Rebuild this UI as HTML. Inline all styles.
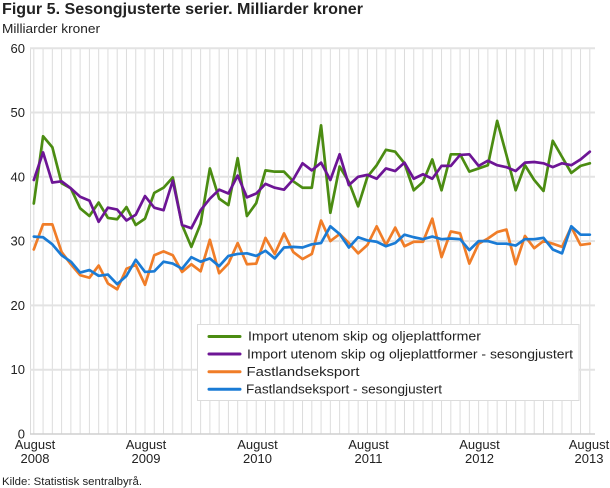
<!DOCTYPE html>
<html><head><meta charset="utf-8"><style>
html,body{margin:0;padding:0;background:#fff;}
svg{display:block;font-family:"Liberation Sans",Arial,sans-serif;}
</style></head><body>
<svg width="610" height="488" viewBox="0 0 610 488" xmlns="http://www.w3.org/2000/svg">
<rect width="610" height="488" fill="#fff"/>
<text x="2" y="14" font-size="15.5" font-weight="bold" fill="#222" textLength="361" lengthAdjust="spacingAndGlyphs">Figur 5. Sesongjusterte serier. Milliarder kroner</text>
<text x="2" y="33" font-size="12.5" fill="#222" textLength="98" lengthAdjust="spacingAndGlyphs">Milliarder kroner</text>
<!-- vertical gridlines -->
<g stroke="#dcdcdc" stroke-width="1">
<line x1="30.5" y1="48" x2="30.5" y2="434"/>
<line x1="33.8" y1="48" x2="33.8" y2="434"/><line x1="43.07" y1="48" x2="43.07" y2="434"/><line x1="52.33" y1="48" x2="52.33" y2="434"/><line x1="61.6" y1="48" x2="61.6" y2="434"/><line x1="70.87" y1="48" x2="70.87" y2="434"/><line x1="80.13" y1="48" x2="80.13" y2="434"/><line x1="89.4" y1="48" x2="89.4" y2="434"/><line x1="98.67" y1="48" x2="98.67" y2="434"/><line x1="107.94" y1="48" x2="107.94" y2="434"/><line x1="117.2" y1="48" x2="117.2" y2="434"/>
<line x1="126.47" y1="48" x2="126.47" y2="434"/><line x1="135.74" y1="48" x2="135.74" y2="434"/><line x1="145" y1="48" x2="145" y2="434"/><line x1="154.27" y1="48" x2="154.27" y2="434"/><line x1="163.54" y1="48" x2="163.54" y2="434"/><line x1="172.8" y1="48" x2="172.8" y2="434"/><line x1="182.07" y1="48" x2="182.07" y2="434"/><line x1="191.34" y1="48" x2="191.34" y2="434"/><line x1="200.61" y1="48" x2="200.61" y2="434"/><line x1="209.87" y1="48" x2="209.87" y2="434"/>
<line x1="219.14" y1="48" x2="219.14" y2="434"/><line x1="228.41" y1="48" x2="228.41" y2="434"/><line x1="237.67" y1="48" x2="237.67" y2="434"/><line x1="246.94" y1="48" x2="246.94" y2="434"/><line x1="256.21" y1="48" x2="256.21" y2="434"/><line x1="265.47" y1="48" x2="265.47" y2="434"/><line x1="274.74" y1="48" x2="274.74" y2="434"/><line x1="284.01" y1="48" x2="284.01" y2="434"/><line x1="293.28" y1="48" x2="293.28" y2="434"/><line x1="302.54" y1="48" x2="302.54" y2="434"/>
<line x1="311.81" y1="48" x2="311.81" y2="434"/><line x1="321.08" y1="48" x2="321.08" y2="434"/><line x1="330.34" y1="48" x2="330.34" y2="434"/><line x1="339.61" y1="48" x2="339.61" y2="434"/><line x1="348.88" y1="48" x2="348.88" y2="434"/><line x1="358.14" y1="48" x2="358.14" y2="434"/><line x1="367.41" y1="48" x2="367.41" y2="434"/><line x1="376.68" y1="48" x2="376.68" y2="434"/><line x1="385.95" y1="48" x2="385.95" y2="434"/><line x1="395.21" y1="48" x2="395.21" y2="434"/>
<line x1="404.48" y1="48" x2="404.48" y2="434"/><line x1="413.75" y1="48" x2="413.75" y2="434"/><line x1="423.01" y1="48" x2="423.01" y2="434"/><line x1="432.28" y1="48" x2="432.28" y2="434"/><line x1="441.55" y1="48" x2="441.55" y2="434"/><line x1="450.81" y1="48" x2="450.81" y2="434"/><line x1="460.08" y1="48" x2="460.08" y2="434"/><line x1="469.35" y1="48" x2="469.35" y2="434"/><line x1="478.62" y1="48" x2="478.62" y2="434"/><line x1="487.88" y1="48" x2="487.88" y2="434"/>
<line x1="497.15" y1="48" x2="497.15" y2="434"/><line x1="506.42" y1="48" x2="506.42" y2="434"/><line x1="515.68" y1="48" x2="515.68" y2="434"/><line x1="524.95" y1="48" x2="524.95" y2="434"/><line x1="534.22" y1="48" x2="534.22" y2="434"/><line x1="543.48" y1="48" x2="543.48" y2="434"/><line x1="552.75" y1="48" x2="552.75" y2="434"/><line x1="562.02" y1="48" x2="562.02" y2="434"/><line x1="571.29" y1="48" x2="571.29" y2="434"/><line x1="580.55" y1="48" x2="580.55" y2="434"/><line x1="589.8" y1="48" x2="589.8" y2="434"/>
</g>
<!-- horizontal gridlines -->
<g stroke="#e3e3e3" stroke-width="2">
<line x1="30" y1="48.2" x2="595" y2="48.2"/>
<line x1="30" y1="112.5" x2="595" y2="112.5"/>
<line x1="30" y1="176.8" x2="595" y2="176.8"/>
<line x1="30" y1="241.1" x2="595" y2="241.1"/>
<line x1="30" y1="305.4" x2="595" y2="305.4"/>
<line x1="30" y1="369.7" x2="595" y2="369.7"/>
</g>
<line x1="30" y1="434" x2="595" y2="434" stroke="#cfcfcf" stroke-width="1.5"/>
<!-- y labels -->
<g font-size="13" fill="#222" text-anchor="end">
<text x="25" y="53">60</text>
<text x="25" y="117">50</text>
<text x="25" y="181.5">40</text>
<text x="25" y="245.5">30</text>
<text x="25" y="310">20</text>
<text x="25" y="374">10</text>
<text x="25" y="438.5">0</text>
</g>
<!-- x labels -->
<g font-size="13" fill="#222" text-anchor="middle">
<text x="35" y="449">August</text><text x="35" y="463">2008</text>
<text x="146" y="449">August</text><text x="146" y="463">2009</text>
<text x="257.5" y="449">August</text><text x="257.5" y="463">2010</text>
<text x="368.5" y="449">August</text><text x="368.5" y="463">2011</text>
<text x="479.5" y="449">August</text><text x="479.5" y="463">2012</text>
<text x="589" y="449">August</text><text x="589" y="463">2013</text>
</g>
<text x="2" y="485" font-size="11" fill="#222" textLength="140" lengthAdjust="spacingAndGlyphs">Kilde: Statistisk sentralbyrå.</text>
<!-- series -->
<g transform="translate(33.8,434) scale(9.267,-6.43)" fill="none" stroke-linejoin="round" stroke-linecap="round">
<polyline vector-effect="non-scaling-stroke" stroke="#4b8c12" stroke-width="2.7" points="0,35.85 1,46.3 2,44.6 3,39.0 4,38.2 5,35.1 6,33.9 7,36.0 8,33.6 9,33.4 10,35.3 11,32.5 12,33.5 13,37.5 14,38.3 15,39.9 16,32.5 17,29.1 18,32.7 19,41.3 20,36.6 21,35.6 22,42.9 23,33.9 24,35.9 25,41.0 26,40.8 27,40.8 28,39.3 29,38.3 30,38.3 31,48.0 32,34.4 33,41.6 34,39.2 35,35.4 36,40.0 37,41.8 38,44.2 39,43.9 40,42.1 41,37.9 42,39.2 43,42.7 44,37.9 45,43.5 46,43.5 47,40.8 48,41.3 49,41.8 50,48.7 51,43.4 52,37.9 53,41.8 54,39.5 55,37.8 56,45.6 57,43.1 58,40.6 59,41.7 60,42.1"/>
<polyline vector-effect="non-scaling-stroke" stroke="#6d1595" stroke-width="2.7" points="0,39.5 1,43.8 2,39.1 3,39.3 4,38.2 5,36.9 6,36.3 7,33.0 8,35.2 9,34.9 10,33.2 11,34.1 12,37.0 13,35.2 14,34.8 15,39.4 16,32.5 17,32.0 18,34.8 19,36.6 20,38.0 21,37.4 22,40.2 23,36.8 24,37.4 25,38.9 26,38.3 27,38.0 28,39.6 29,42.1 30,41.0 31,42.2 32,39.5 33,43.5 34,38.7 35,40.0 36,40.3 37,39.7 38,41.3 39,40.9 40,42.2 41,39.7 42,40.4 43,39.7 44,41.7 45,41.7 46,43.4 47,43.5 48,41.7 49,42.5 50,41.8 51,41.5 52,40.9 53,42.2 54,42.3 55,42.1 56,41.5 57,42.1 58,41.8 59,42.7 60,43.9"/>
<polyline vector-effect="non-scaling-stroke" stroke="#f07d28" stroke-width="2.7" points="0,28.7 1,32.6 2,32.6 3,28.3 4,26.4 5,24.7 6,24.3 7,26.2 8,23.4 9,22.5 10,25.7 11,26.3 12,23.2 13,27.8 14,28.4 15,27.8 16,25.2 17,26.4 18,25.3 19,30.2 20,25.0 21,26.5 22,29.7 23,26.4 24,26.5 25,30.5 26,28.0 27,31.2 28,28.3 29,27.2 30,28.0 31,33.2 32,30.0 33,31.1 34,29.7 35,28.1 36,29.4 37,32.3 38,29.4 39,32.1 40,29.2 41,29.9 42,29.9 43,33.5 44,27.5 45,31.5 46,31.2 47,26.5 48,29.6 49,30.4 50,31.4 51,31.8 52,26.4 53,30.8 54,28.9 55,30.0 56,29.6 57,29.1 58,32.2 59,29.4 60,29.6"/>
<polyline vector-effect="non-scaling-stroke" stroke="#1a7bd5" stroke-width="2.7" points="0,30.7 1,30.6 2,29.5 3,27.8 4,26.8 5,25.1 6,25.5 7,24.6 8,24.8 9,23.3 10,24.6 11,27.1 12,25.2 13,25.3 14,26.8 15,26.5 16,25.7 17,27.5 18,26.8 19,27.3 20,26.1 21,27.7 22,28.0 23,28.1 24,27.7 25,28.5 26,27.3 27,29.0 28,29.1 29,29.0 30,29.5 31,29.7 32,32.3 33,31.1 34,29.0 35,30.6 36,30.1 37,29.9 38,29.2 39,29.7 40,31.0 41,30.6 42,30.3 43,30.7 44,30.3 45,30.4 46,30.3 47,28.6 48,30.0 49,30.0 50,29.6 51,29.6 52,29.3 53,30.3 54,30.3 55,30.5 56,28.7 57,28.1 58,32.3 59,31.0 60,31.0"/>
</g>
<!-- legend -->
<rect x="197.5" y="324.5" width="381.5" height="76" fill="#fff" stroke="#dcdcdc" stroke-width="1"/>
<g stroke-width="3" stroke-linecap="round">
<line x1="209" y1="336.5" x2="240" y2="336.5" stroke="#4b8c12"/>
<line x1="209" y1="354" x2="240" y2="354" stroke="#6d1595"/>
<line x1="209" y1="371.7" x2="240" y2="371.7" stroke="#f07d28"/>
<line x1="209" y1="389.3" x2="240" y2="389.3" stroke="#1a7bd5"/>
</g>
<g font-size="13" fill="#222">
<text x="248" y="340.5" textLength="233" lengthAdjust="spacingAndGlyphs">Import utenom skip og oljeplattformer</text>
<text x="247" y="358.5" textLength="326" lengthAdjust="spacingAndGlyphs">Import utenom skip og oljeplattformer - sesongjustert</text>
<text x="246.5" y="376" textLength="113" lengthAdjust="spacingAndGlyphs">Fastlandseksport</text>
<text x="246" y="393.5" textLength="196" lengthAdjust="spacingAndGlyphs">Fastlandseksport - sesongjustert</text>
</g>
</svg>
</body></html>
